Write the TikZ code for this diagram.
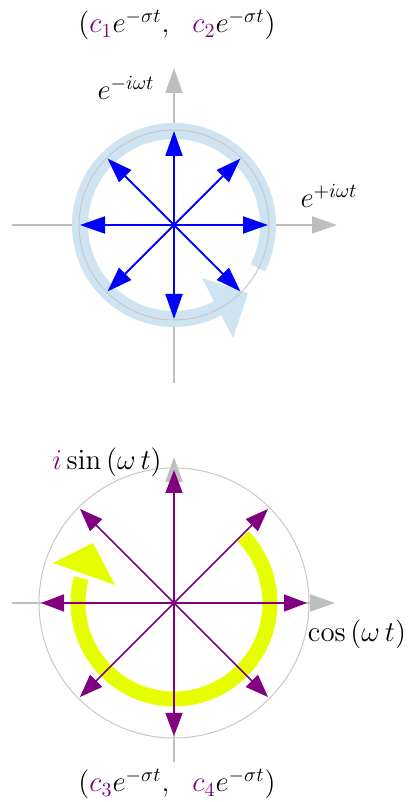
\documentclass[tikz,border=0pt]{standalone}
\usepackage{amsmath}
\usepackage{xcolor}
\usetikzlibrary{arrows.meta,calc}

\definecolor{vecblue}{RGB}{0,0,255}
\definecolor{vecpurple}{RGB}{128,0,128}
\definecolor{ringblue}{RGB}{207,228,242}
\definecolor{ringyellow}{RGB}{230,255,0}
\definecolor{axisgray}{RGB}{190,190,190}

\begin{document}
\begin{tikzpicture}[
  x=0.5pt, y=0.5pt,
  axis/.style={draw=axisgray, line width=1pt, -{Triangle[length=12.5pt, width=8.5pt]}},
  rim/.style={draw=axisgray!85, line width=0.5pt},
  bluevec/.style={draw=vecblue, line width=1pt, -{Triangle[length=12.5pt, width=8.5pt]}},
  purplevec/.style={draw=vecpurple, line width=0.75pt, -{Triangle[length=11.5pt, width=8.5pt]}},
  lbl/.style={inner sep=0pt, font=\fontsize{14}{16}\selectfont},
  biglbl/.style={inner sep=0pt, font=\fontsize{15.5}{18}\selectfont}
]
\useasboundingbox (0,0) rectangle (412,802);

% upper circle: e^{+-i omega t}
\coordinate (O1) at (174,577);
\coordinate (left1) at (12,577);
\coordinate (right1) at (337,577);
\coordinate (low1) at (174,419);
\coordinate (top1) at (174,734);
\draw[axis] (left1) -- (right1);
\draw[axis] (low1) -- (top1);
\draw[line width=8pt, ringblue] ([shift={(-27:94)}]O1) arc[start angle=-27, end angle=310, radius=94];
\fill[ringblue] (202,524) -- (248,509) -- (233,464) -- cycle;
\draw[rim] (O1) circle[radius=95];
\foreach \a in {0,45,...,315} {
  \coordinate (b\a) at ($(O1)+(\a:94)$);
  \draw[bluevec] (O1) -- (b\a);
}
\node[lbl] (expminus) at (126,714) {$e^{-i\omega t}$};
\node[lbl] (expplus) at (329,606) {$e^{+i\omega t}$};
\node[lbl] (coef12) at (177,777) {$(\textcolor{vecpurple}{c_1}e^{-\sigma t},\ \ \textcolor{vecpurple}{c_2}e^{-\sigma t})$};

% lower circle: cos and i sin
\coordinate (O2) at (174,199);
\coordinate (left2) at (12,199);
\coordinate (right2) at (335,199);
\coordinate (low2) at (174,40);
\coordinate (top2) at (174,345);
\draw[axis] (left2) -- (right2);
\draw[axis] (low2) -- (top2);
\draw[line width=7.5pt, ringyellow] ([shift={(44:96)}]O2) arc[start angle=44, end angle=-195, radius=96];
\fill[ringyellow] (53,239) -- (93,259) -- (115,217) -- cycle;
\draw[rim] (O2) circle[radius=135];
\foreach \a in {0,45,...,315} {
  \coordinate (p\a) at ($(O2)+(\a:133)$);
  \draw[purplevec] (O2) -- (p\a);
}
\node[biglbl] (sinlbl) at (107,340) {$\textcolor{vecpurple}{i}\sin\,(\omega\,t)$};
\node[biglbl] (coslbl) at (357,168) {$\cos\,(\omega\,t)$};
\node[lbl] (coef34) at (177,18) {$(\textcolor{vecpurple}{c_3}e^{-\sigma t},\ \ \textcolor{vecpurple}{c_4}e^{-\sigma t})$};

\end{tikzpicture}
\end{document}
